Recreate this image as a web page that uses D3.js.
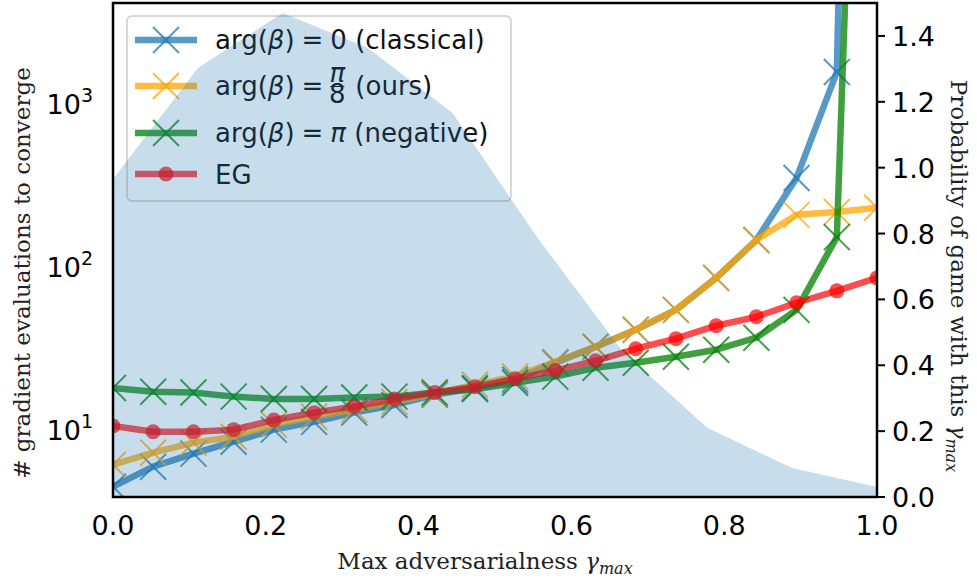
<!DOCTYPE html>
<html>
<head>
<meta charset="utf-8">
<script src="https://d3js.org/d3.v7.min.js"></script>
<style type="text/css">
body { margin:0; background:#fff; }
.tick-label { font-family:'DejaVu Sans', sans-serif; font-size:27px; fill:#000; }
.ax-label { font-family:'DejaVu Serif', serif; font-size:23px; fill:#222; }
.leg { font-family:'DejaVu Sans', sans-serif; font-size:26px; fill:#111; }
</style>
</head>
<body>
<div id="chart"></div>
<script>
// x grid of the runs (20 values of gamma_max)
var gammaVals = [0, 0.0526, 0.1053, 0.1579, 0.2105, 0.2632, 0.3158, 0.3684, 0.4211, 0.4737,
                 0.5263, 0.5789, 0.6316, 0.6842, 0.7368, 0.7895, 0.8421, 0.8947, 0.9474, 1.0];

// gradient evaluations to converge
var classical = [4.28, 5.68, 6.83, 8.09, 9.59, 10.7, 12.2, 13.6, 15.7, 17.3,
                 19.4, 24.7, 31.0, 39.4, 52.2, 82.0, 140, 337, 1507, 7e13];
var ours      = [5.85, 6.93, 7.98, 8.68, 10.3, 11.5, 12.7, 14.2, 15.9, 18.1,
                 20.3, 25.0, 31.0, 39.4, 52.2, 82.0, 140, 200, 208, 221];
var negative  = [17.3, 16.4, 16.2, 15.3, 14.8, 14.8, 15.1, 15.3, 16.2, 17.0,
                 18.6, 20.3, 23.0, 24.7, 26.9, 29.7, 35.2, 52.2, 146, 1.5e9];
var eg        = [10.1, 9.31, 9.31, 9.59, 11.0, 12.2, 13.3, 14.8, 16.2, 17.6,
                 19.7, 22.1, 25.4, 30.1, 34.7, 41.7, 47.3, 57.7, 68.3, 82.0];

// probability of a game with this gamma_max (shaded area, right axis)
var probX = [0, 0.1111, 0.2222, 0.3333, 0.4444, 0.5556, 0.6667, 0.7778, 0.8889, 1.0];
var probY = [0.965, 1.303, 1.470, 1.364, 1.166, 0.787, 0.443, 0.210, 0.088, 0.030];

var xTicks = [0, 0.2, 0.4, 0.6, 0.8, 1.0];
var leftTicks = [10, 100, 1000];
var leftExp = ["1", "2", "3"];
var rightTicks = [0, 0.2, 0.4, 0.6, 0.8, 1.0, 1.2, 1.4];

// plot box  (note: "top" is reserved on window, so use a margin object)
var W = 977, H = 581;
var box = {left: 113, right: 877, top: 3, bottom: 497};

var svg = d3.select("#chart").append("svg")
  .attr("width", W).attr("height", H);

var x = d3.scaleLinear().domain([0, 1]).range([box.left, box.right]);
var yL = d3.scaleLog().domain([3.7, 4000]).range([box.bottom, box.top]);
var yR = d3.scaleLinear().domain([0, 1.5]).range([box.bottom, box.top]);

svg.append("defs").append("clipPath").attr("id", "clip")
  .append("rect").attr("x", box.left).attr("y", box.top)
  .attr("width", box.right - box.left).attr("height", box.bottom - box.top);

var plot = svg.append("g").attr("clip-path", "url(#clip)");

var series = [
  {name: "classical", vals: classical, color: "#1f77b4", marker: "x", alpha: 0.75},
  {name: "ours", vals: ours, color: "orange", marker: "x", alpha: 0.75},
  {name: "negative", vals: negative, color: "green", marker: "x", alpha: 0.75},
  {name: "eg", vals: eg, color: "red", marker: "o", alpha: 0.7}
];

var line = d3.line()
  .x(function(d) { return x(d[0]); })
  .y(function(d) { return yL(d[1]); });

var xs = 13; // half size of the x marker

function xPath(cx, cy) {
  return "M" + (cx - xs) + "," + (cy - xs) + "L" + (cx + xs) + "," + (cy + xs) +
         "M" + (cx - xs) + "," + (cy + xs) + "L" + (cx + xs) + "," + (cy - xs);
}

function drawSeries(g, s) {
  var pts = gammaVals.map(function(v, i) { return [v, s.vals[i]]; });
  g.append("path")
    .attr("d", line(pts))
    .attr("fill", "none")
    .attr("stroke", s.color)
    .attr("stroke-opacity", s.alpha)
    .attr("stroke-width", 6.5)
    .attr("stroke-linejoin", "round");
  if (s.marker == "x") {
    g.selectAll(null).data(pts).enter()
      .append("path")
      .attr("d", function(d) { return xPath(x(d[0]), yL(d[1])); })
      .attr("stroke", s.color)
      .attr("stroke-opacity", s.alpha)
      .attr("stroke-width", 2);
  } else {
    g.selectAll(null).data(pts).enter()
      .append("circle")
      .attr("cx", function(d) { return x(d[0]); })
      .attr("cy", function(d) { return yL(d[1]); })
      .attr("r", 7.5)
      .attr("fill", s.color)
      .attr("fill-opacity", s.alpha);
  }
}

series.forEach(function(s) { drawSeries(plot, s); });

// legend (belongs to the left axes, so it sits under the shaded area)
var leg = svg.append("g");
leg.append("rect")
  .attr("x", 127).attr("y", 16).attr("width", 384).attr("height", 185)
  .attr("rx", 5).attr("ry", 5)
  .attr("fill", "#fff").attr("fill-opacity", 0.8)
  .attr("stroke", "#cccccc").attr("stroke-width", 1.5);

var rowY = [40, 86, 133, 174];
series.forEach(function(s, i) {
  var yy = rowY[i];
  leg.append("line")
    .attr("x1", 135).attr("x2", 197).attr("y1", yy).attr("y2", yy)
    .attr("stroke", s.color).attr("stroke-opacity", s.alpha).attr("stroke-width", 6.5);
  if (s.marker == "x") {
    leg.append("path")
      .attr("d", xPath(166, yy))
      .attr("stroke", s.color).attr("stroke-opacity", s.alpha).attr("stroke-width", 2);
  } else {
    leg.append("circle").attr("cx", 166).attr("cy", yy).attr("r", 7.5)
      .attr("fill", s.color).attr("fill-opacity", s.alpha);
  }
});

// "arg(β) =" part, with a bit of extra room round "="
function argText(yy) {
  var t = leg.append("text").attr("class", "leg").attr("x", 215).attr("y", yy + 9);
  t.append("tspan").text("arg(");
  t.append("tspan").attr("font-style", "italic").text("β");
  t.append("tspan").text(")");
  t.append("tspan").attr("dx", 7).text("=");
  return t;
}

var t0 = argText(rowY[0]);
t0.append("tspan").attr("dx", 7).text("0 (classical)");

var t1 = argText(rowY[1]);
var fx = 215 + t1.node().getComputedTextLength() + 21;
// pi over 8, one text with two stacked tspans
var frac = leg.append("text").attr("class", "leg")
  .attr("text-anchor", "middle").attr("font-size", 19);
frac.append("tspan").attr("x", fx).attr("y", rowY[1] - 4)
  .attr("font-style", "italic").text("π");
frac.append("tspan").attr("x", fx).attr("y", rowY[1] + 17).text("8");
leg.append("line").attr("x1", fx - 7).attr("x2", fx + 7)
  .attr("y1", rowY[1] + 0.5).attr("y2", rowY[1] + 0.5)
  .attr("stroke", "#111").attr("stroke-width", 1);
leg.append("text").attr("class", "leg").attr("x", fx + 18).attr("y", rowY[1] + 9)
  .text("(ours)");

var t2 = argText(rowY[2]);
t2.append("tspan").attr("dx", 7).attr("font-style", "italic").text("π");
t2.append("tspan").text(" (negative)");

leg.append("text").attr("class", "leg").attr("x", 215).attr("y", rowY[3] + 10).text("EG");

// probability area on the twin axis, drawn on top
var area = d3.area()
  .x(function(d) { return x(d[0]); })
  .y0(yR(0))
  .y1(function(d) { return yR(d[1]); });
svg.append("path")
  .attr("d", area(probX.map(function(v, i) { return [v, probY[i]]; })))
  .attr("fill", "#1f77b4")
  .attr("fill-opacity", 0.25);

// spines
svg.append("rect")
  .attr("x", box.left).attr("y", box.top)
  .attr("width", box.right - box.left).attr("height", box.bottom - box.top)
  .attr("fill", "none").attr("stroke", "#000").attr("stroke-width", 2.5);

// x tick labels
svg.selectAll(null).data(xTicks).enter()
  .append("text").attr("class", "tick-label")
  .attr("x", function(d) { return x(d); })
  .attr("y", 535)
  .attr("text-anchor", "middle")
  .text(function(d) { return d3.format(".1f")(d); });

// left log tick labels
leftTicks.forEach(function(v, i) {
  var t = svg.append("text").attr("class", "tick-label")
    .attr("x", 93).attr("y", yL(v) + 13).attr("text-anchor", "end");
  t.append("tspan").text("10");
  t.append("tspan").attr("font-size", 19).attr("dy", -12).text(leftExp[i]);
});

// right ticks and labels
var rt = svg.selectAll(null).data(rightTicks).enter().append("g");
rt.append("line")
  .attr("x1", box.right).attr("x2", box.right + 8)
  .attr("y1", function(d) { return yR(d); }).attr("y2", function(d) { return yR(d); })
  .attr("stroke", "#000").attr("stroke-width", 2);
rt.append("text").attr("class", "tick-label")
  .attr("x", 892)
  .attr("y", function(d) { return yR(d) + 10; })
  .text(function(d) { return d3.format(".1f")(d); });

// axis labels
var xl = svg.append("text").attr("class", "ax-label")
  .attr("x", 485).attr("y", 569).attr("text-anchor", "middle");
xl.append("tspan").text("Max adversarialness ");
xl.append("tspan").attr("font-style", "italic").text("γ");
xl.append("tspan").attr("font-style", "italic").attr("font-size", 16).attr("dy", 5).text("max");

svg.append("text").attr("class", "ax-label")
  .attr("transform", "translate(30,273) rotate(-90)")
  .attr("text-anchor", "middle")
  .text("# gradient evaluations to converge");

var rl = svg.append("text").attr("class", "ax-label")
  .attr("transform", "translate(951,276) rotate(90)")
  .attr("text-anchor", "middle");
rl.append("tspan").text("Probability of game with this ");
rl.append("tspan").attr("font-style", "italic").text("γ");
rl.append("tspan").attr("font-style", "italic").attr("font-size", 16).attr("dy", 5).text("max");
</script>
</body>
</html>
